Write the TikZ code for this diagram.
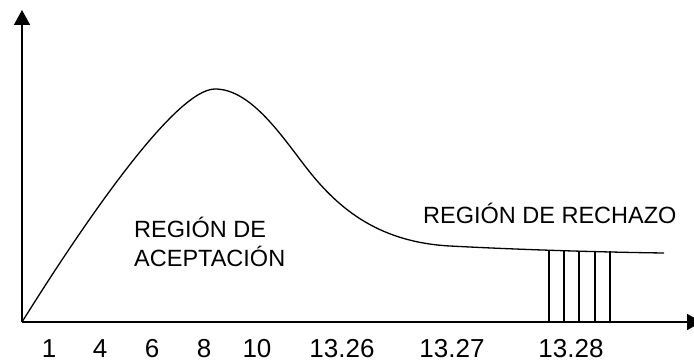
\documentclass[tikz,border=0pt]{standalone}
\usepackage{fontspec}
\setmainfont{Liberation Sans}
\usetikzlibrary{arrows.meta}
\begin{document}
\begin{tikzpicture}[x=1pt,y=-1pt,
  axis/.style={line width=1.6pt,-{Triangle[length=15pt,width=16pt]}},
  curve/.style={line width=1.3pt},
  hatch/.style={line width=1.3pt},
  lbl/.style={inner sep=0pt,anchor=base west,font=\fontsize{23.5}{28}\selectfont},
  num/.style={inner sep=0pt,anchor=base,font=\fontsize{26}{30}\selectfont}]
\useasboundingbox (0,0) rectangle (694,361);
\coordinate (o) at (22,322);
\coordinate (ytop) at (22,10);
\coordinate (xend) at (702,322);
\draw[axis] (o) -- (ytop);
\draw[axis] (o) -- (xend);
\coordinate (peak) at (215,89);
\coordinate (inf) at (305,166);
\coordinate (knee) at (450,246);
\coordinate (cend) at (664,253);
\draw[curve] (o) .. controls (82,226) and (175,89) .. (peak)
  .. controls (250,89) and (280,133.5) .. (inf)
  .. controls (335,205) and (375,242) .. (knee)
  .. controls (510,249.2) and (590,252) .. (cend);
\foreach \x in {549,564,579,595,610} {
  \coordinate (h\x a) at (\x,250.8);
  \coordinate (h\x b) at (\x,322);
  \draw[hatch] (h\x a) -- (h\x b);
}
\node[lbl] (r1) at (134,237) {REGIÓN DE};
\node[lbl] (r2) at (134,266) {ACEPTACIÓN};
\node[lbl] (r3) at (423,223) {REGIÓN DE RECHAZO};
\node[num] (n1) at (49,357) {1};
\node[num] (n4) at (100,357) {4};
\node[num] (n6) at (152,357) {6};
\node[num] (n8) at (204,357) {8};
\node[num] (n10) at (257,357) {10};
\node[num] (n1326) at (342,357) {13.26};
\node[num] (n1327) at (452,357) {13.27};
\node[num] (n1328) at (571,357) {13.28};
\end{tikzpicture}
\end{document}
